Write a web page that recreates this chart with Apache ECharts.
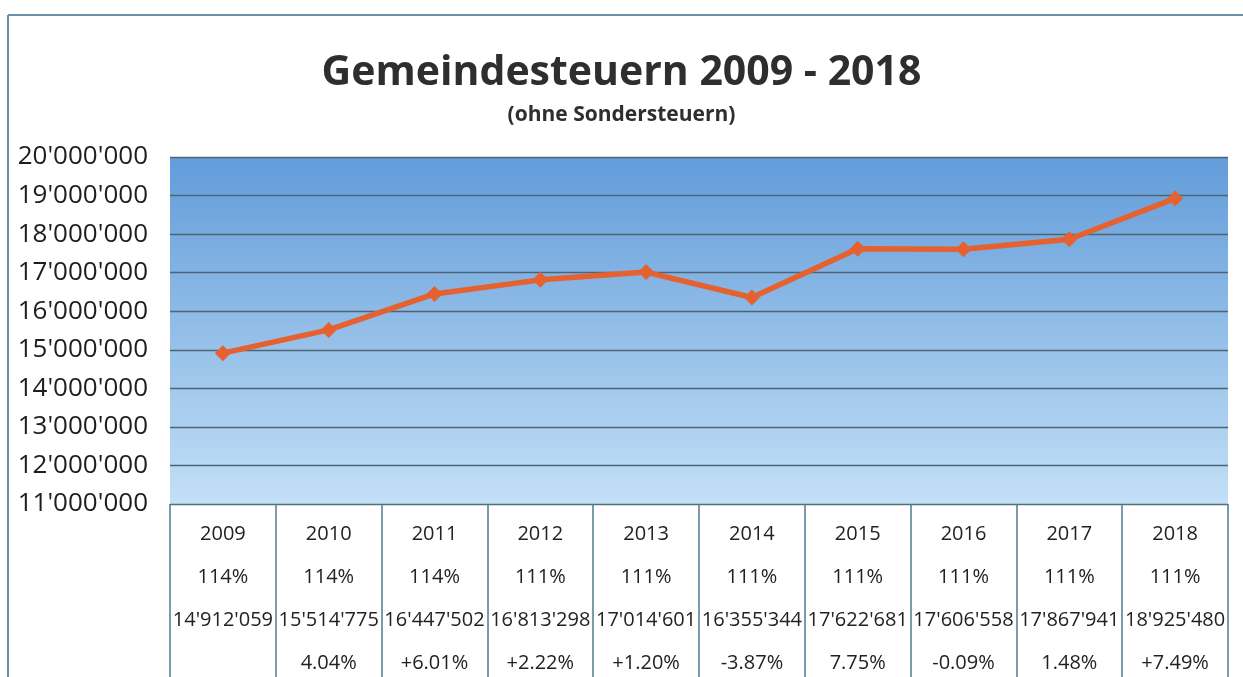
<!DOCTYPE html>
<html>
<head>
<meta charset="utf-8">
<title>Gemeindesteuern 2009 - 2018</title>
<script src="https://cdn.jsdelivr.net/npm/echarts@6/dist/echarts.min.js"></script>
<style>
  html, body { margin: 0; padding: 0; background: #fff; }
  #chart { width: 1243px; height: 677px; }
</style>
</head>
<body>
<div id="chart"></div>
<script>
// Jahre, Steuerfuss, Steuerertrag, Veränderung zum Vorjahr
const years = ['2009', '2010', '2011', '2012', '2013', '2014', '2015', '2016', '2017', '2018'];
const rates = ['114%', '114%', '114%', '111%', '111%', '111%', '111%', '111%', '111%', '111%'];
const taxes = [14912059, 15514775, 16447502, 16813298, 17014601, 16355344, 17622681, 17606558, 17867941, 18925480];
const changes = ['', '4.04%', '+6.01%', '+2.22%', '+1.20%', '-3.87%', '7.75%', '-0.09%', '1.48%', '+7.49%'];
const yMin = 11000000;
const yMax = 20000000;
const yStep = 1000000;

const FONT = '"Open Sans", "DejaVu Sans", sans-serif';

// 14912059 -> 14'912'059
function fmt(v) {
    return String(Math.round(v)).replace(/\B(?=(\d{3})+(?!\d))/g, "'");
}

const chart = echarts.init(document.getElementById('chart'));

const option = {
    backgroundColor: '#ffffff',
    animation: false,
    title: {
        text: 'Gemeindesteuern 2009 - 2018',
        subtext: '(ohne Sondersteuern)',
        left: 'center',
        top: 48,
        itemGap: 11,
        textStyle: { fontFamily: FONT, fontSize: 41, fontWeight: 'bold', color: '#2e2e2e' },
        subtextStyle: { fontFamily: FONT, fontSize: 21, fontWeight: 'bold', color: '#2e2e2e' }
    },
    grid: {
        left: 170,
        right: 15,
        top: 157,
        bottom: 173,
        outerBoundsMode: 'none', // Tabelle unter der Achse soll das Raster nicht verkleinern
        show: true,
        borderWidth: 0,
        backgroundColor: {
            type: 'linear', x: 0, y: 0, x2: 0, y2: 1,
            colorStops: [
                { offset: 0, color: '#629cda' },
                { offset: 1, color: '#c3e0f6' }
            ]
        }
    },
    xAxis: {
        type: 'category',
        data: years,
        boundaryGap: true,
        axisLine: { show: true, lineStyle: { color: '#4f6e80', width: 1 } },
        axisTick: {
            show: true,
            length: 175,
            lineStyle: { color: '#4f7a92', width: 1.5 }
        },
        axisLabel: {
            interval: 0,
            margin: 9,
            fontFamily: FONT,
            fontSize: 20,
            lineHeight: 43,
            color: '#222',
            formatter: function (value, idx) {
                return [years[idx], rates[idx], fmt(taxes[idx]), changes[idx]].join('\n');
            }
        },
        splitLine: { show: false }
    },
    yAxis: {
        type: 'value',
        min: yMin,
        max: yMax,
        interval: yStep,
        axisLine: { show: false },
        axisTick: { show: false },
        axisLabel: {
            margin: 22,
            fontFamily: FONT,
            fontSize: 26,
            color: '#1e1e1e',
            formatter: function (v) { return fmt(v); }
        },
        splitLine: { show: true, lineStyle: { color: '#4c6571', width: 1.3 } }
    },
    series: [
        {
            name: 'Gemeindesteuern',
            type: 'line',
            data: taxes,
            symbol: 'diamond',
            symbolSize: 16,
            lineStyle: { color: '#e5612f', width: 5.5 },
            itemStyle: { color: '#e5612f' }
        }
    ],
    graphic: [
        // Rahmen des gescannten Diagramms
        { type: 'line', shape: { x1: 8, y1: 15, x2: 1243, y2: 15 }, style: { stroke: '#6a90a8', lineWidth: 2 } },
        { type: 'line', shape: { x1: 8, y1: 15, x2: 8, y2: 677 }, style: { stroke: '#6a90a8', lineWidth: 2 } }
    ]
};

chart.setOption(option);
</script>
</body>
</html>
